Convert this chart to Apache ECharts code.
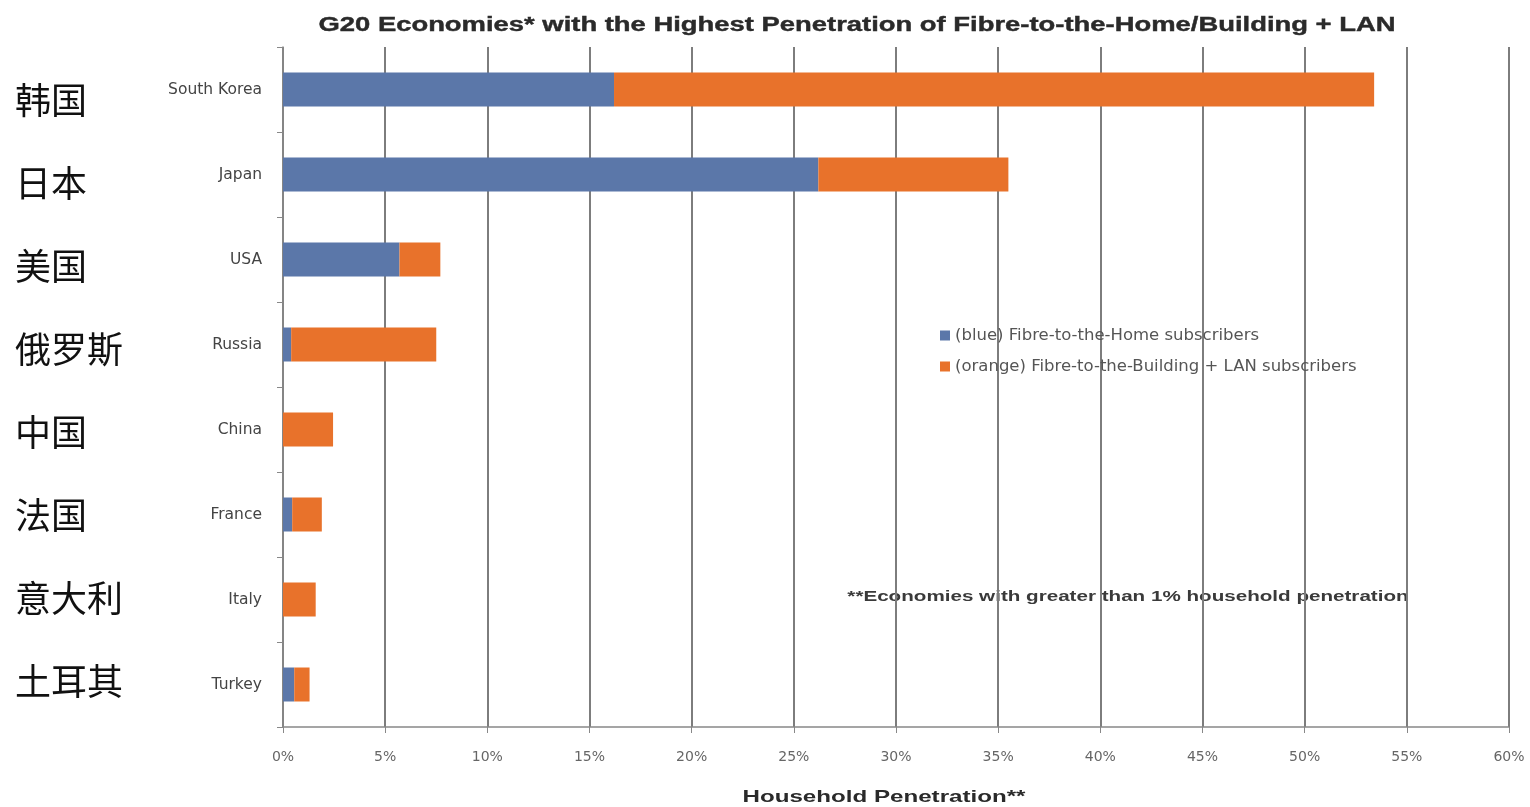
<!DOCTYPE html>
<html><head><meta charset="utf-8">
<script src="https://cdn.jsdelivr.net/npm/echarts@6/dist/echarts.min.js"></script>
<style>html,body{margin:0;padding:0;background:#fff}#c{width:1530px;height:807px}</style>
</head><body><div id="c"></div>
<script>
const categories = ['South Korea','Japan','USA','Russia','China','France','Italy','Turkey'];
const chineseLabels = ['韩国','日本','美国','俄罗斯','中国','法国','意大利','土耳其'];
const fttH = [16.2, 26.2, 5.7, 0.4, 0.0, 0.45, 0.0, 0.55];
const fttbLan = [37.2, 9.3, 2.0, 7.1, 2.45, 1.45, 1.6, 0.75];
const titleText = 'G20 Economies* with the Highest Penetration of Fibre-to-the-Home/Building + LAN';
const noteText = '**Economies with greater than 1% household penetration';
const xAxisName = 'Household Penetration**';
const seriesNames = ['(blue) Fibre-to-the-Home subscribers','(orange) Fibre-to-the-Building + LAN subscribers'];

const chart = echarts.init(document.getElementById('c'), null, {renderer:'canvas'});
const boldFont = 'Liberation Sans, Arial, sans-serif';
chart.setOption({
  backgroundColor:'#fff',
  animation:false,
  legend:{orient:'vertical', left:935, top:322, itemWidth:10, itemHeight:10, itemGap:14,
    icon:'rect', textStyle:{fontFamily:'DejaVu Sans, sans-serif', fontSize:16.5, color:'#555'},
    data:seriesNames},
  graphic:[
    {type:'text', x:857, y:25, scaleX:1.37,
     style:{text:titleText, align:'center', verticalAlign:'middle', fontFamily:boldFont, fontSize:20, fontWeight:'bold', fill:'#2a2a2a', stroke:'#2a2a2a', lineWidth:0.4}},
    {type:'text', x:1128, y:597, scaleX:1.33,
     style:{text:noteText, align:'center', verticalAlign:'middle', fontFamily:boldFont, fontSize:15.5, fontWeight:'bold', fill:'#3a3a3a'}},
    {type:'text', x:884, y:797, scaleX:1.42,
     style:{text:xAxisName, align:'center', verticalAlign:'middle', fontFamily:boldFont, fontSize:17, fontWeight:'bold', fill:'#2a2a2a'}}
  ],
  grid:[
    {left:283, right:21, top:47, height:680},
    {left:0, width:5, top:58.5, height:664}
  ],
  xAxis:[
    {gridIndex:0, type:'value', min:0, max:60, interval:5,
     axisLine:{show:true, lineStyle:{color:'#888', width:1.5}},
     axisTick:{show:true, length:6, lineStyle:{color:'#888'}},
     axisLabel:{formatter:'{value}%', margin:23, fontFamily:'DejaVu Sans, sans-serif', fontSize:14, color:'#666'},
     splitLine:{show:true, lineStyle:{color:'#7d7d7d', width:2}}},
    {gridIndex:1, type:'value', show:false}
  ],
  yAxis:[
    {gridIndex:0, type:'category', inverse:true, data:categories,
     axisLine:{show:true, lineStyle:{color:'#888', width:1.5}},
     axisTick:{show:true, length:6, lineStyle:{color:'#888'}},
     axisLabel:{margin:21, fontFamily:'DejaVu Sans, sans-serif', fontSize:15.5, color:'#444'}},
    {gridIndex:1, type:'category', inverse:true, data:chineseLabels, position:'right',
     axisLine:{show:false}, axisTick:{show:false},
     axisLabel:{margin:10, align:'left', fontFamily:'Noto Sans CJK SC', fontSize:36, color:'#111'}}
  ],
  series:[
    {name:seriesNames[0], type:'bar', stack:'a', data:fttH, barWidth:34,
     itemStyle:{color:'#5b77a9'}, xAxisIndex:0, yAxisIndex:0},
    {name:seriesNames[1], type:'bar', stack:'a', data:fttbLan, barWidth:34,
     itemStyle:{color:'#e8722b'}, xAxisIndex:0, yAxisIndex:0}
  ]
});
</script></body></html>
